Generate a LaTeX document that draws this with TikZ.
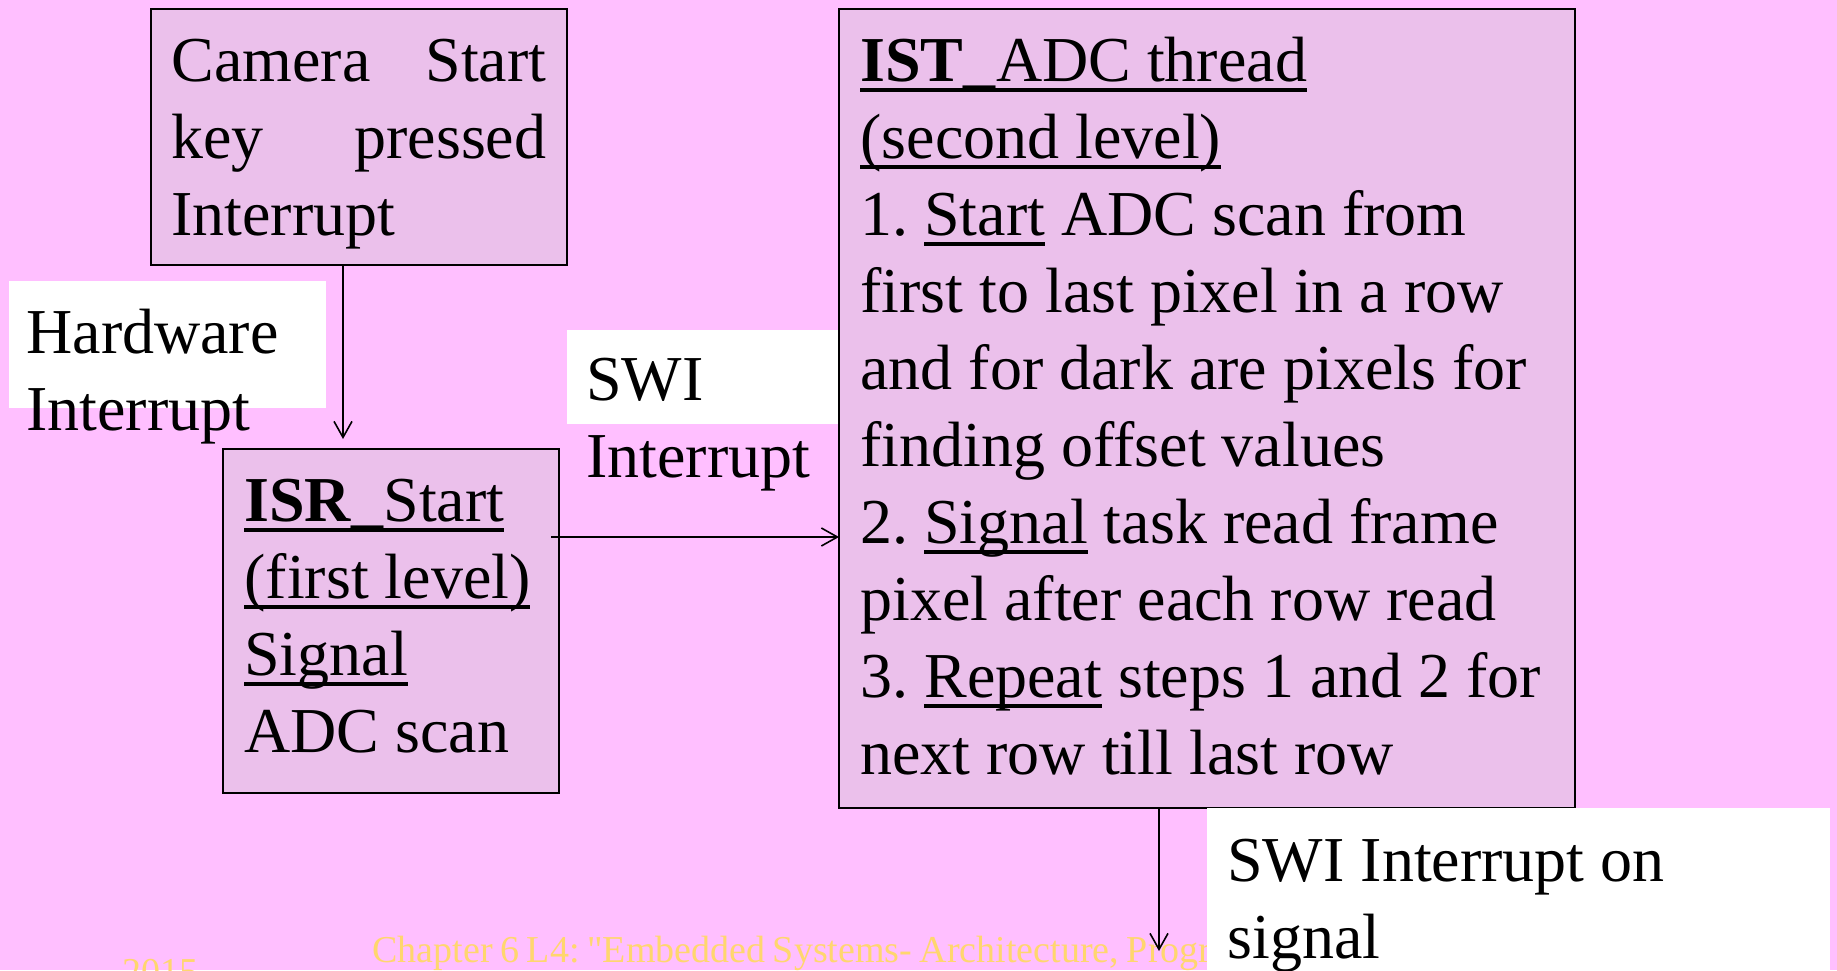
\documentclass[tikz,border=0pt]{standalone}
\usepackage{fontspec}
\setmainfont{Liberation Serif}
\newfontfamily\footfont{Liberation Serif}[Ligatures=TeXOff,WordSpace={0.8,0.6,0.4}]
\usetikzlibrary{arrows.meta}
\definecolor{bgpink}{RGB}{255,191,255}
\definecolor{boxfill}{RGB}{235,192,235}
\definecolor{foot}{RGB}{255,214,110}
\newcommand\myul[1]{\leavevmode{\setbox0=\hbox{#1}\rlap{\rule[-5.5pt]{\wd0}{2.2pt}}\box0}}
\frenchspacing
\begin{document}
\begin{tikzpicture}[x=0.5pt,y=-0.5pt,
  box/.style={draw=black,line width=1pt,fill=boxfill,inner sep=0pt,outer sep=0pt,anchor=north west},
  wbox/.style={fill=white,inner sep=0pt,outer sep=0pt,anchor=north west},
  txt/.style={inner sep=0pt,anchor=base west,align=flush left,font=\fontsize{32}{38.5}\selectfont},
  foottxt/.style={inner sep=0pt,anchor=base west,text=foot,font=\footfont\fontsize{19}{23}\selectfont},
  arr/.style={-{Straight Barb[length=8pt,width=9pt]},line width=0.8pt}]
\fill[bgpink] (0,0) rectangle (1837,970);
\useasboundingbox (0,0) rectangle (1837,970);
% footer
\node[foottxt] (foot1) at (372,962) {Chapter 6 L4: "Embedded Systems- Architecture, Progr};
\node[foottxt] (foot2) at (122,984) {2015};
% boxes
\node[box,minimum width=208pt,minimum height=128pt] (cam) at (151,9) {};
\node[wbox,minimum width=158.5pt,minimum height=63.5pt] (hw) at (9,281) {};
\node[wbox,minimum width=136pt,minimum height=47pt] (swi) at (567,330) {};
\node[box,minimum width=168pt,minimum height=172pt] (isr) at (223,449) {};
\node[box,minimum width=368pt,minimum height=399.5pt] (ist) at (839,9) {};
\node[wbox,minimum width=311.5pt,minimum height=82pt] (sig) at (1207,808) {};
% texts
\node[txt,text width=187.5pt] (camtxt) at (171,81) {Camera\hfill Start\\key\hfill pressed\\Interrupt};
\node[txt,text width=150pt] (hwtxt) at (26,353) {Hardware\\Interrupt};
\node[txt,text width=130pt] (switxt) at (586,400) {SWI\\Interrupt};
\node[txt,text width=158pt] (isrtxt) at (244,521) {\myul{\textbf{ISR\_}Start}\\\myul{(first level)}\\\myul{Signal}\\ADC scan};
\node[txt,text width=358pt] (isttxt) at (860,81) {\myul{\textbf{IST\_}ADC thread}\\
\myul{(second level)}\\
1. \myul{Start} ADC scan from\\
first to last pixel in a row\\
and for dark are pixels for\\
finding offset values\\
2. \myul{Signal} task read frame\\
pixel after each row read\\
3. \myul{Repeat} steps 1 and 2 for\\
next row till last row};
\node[txt,text width=300pt] (sigtxt) at (1227,881) {SWI Interrupt on\\signal};
% connectors
\path ([xshift=-8pt]cam.south) coordinate (c1);
\path ([yshift=5pt]isr.north) coordinate (i1);
\draw[arr] (c1) -- (c1 |- i1);
\path ([xshift=-4pt,yshift=-44pt]isr.north east) coordinate (i2);
\draw[arr] (i2) -- (i2 -| ist.west);
\path ([xshift=-24pt]ist.south) coordinate (s1);
\coordinate (s2) at (1159,951);
\draw[arr] (s1) -- (s2);
\end{tikzpicture}
\end{document}
